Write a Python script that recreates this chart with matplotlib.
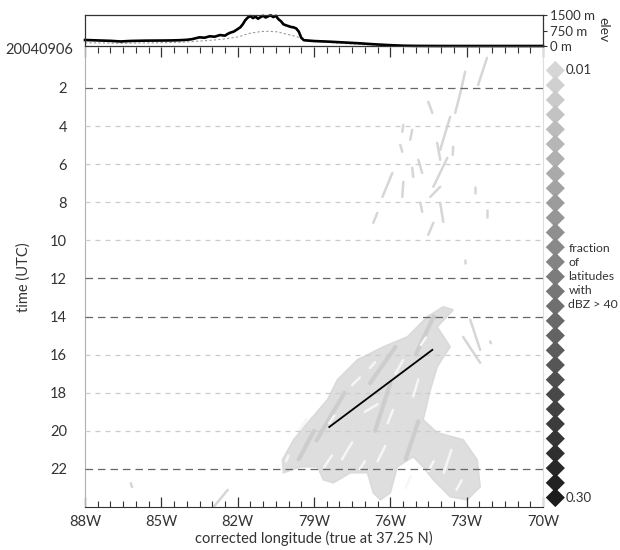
import numpy as np
import matplotlib
matplotlib.use('Agg')
import matplotlib.pyplot as plt
from matplotlib.patches import Polygon
from matplotlib.ticker import MultipleLocator
from matplotlib.colors import LinearSegmentedColormap

plt.rcParams['font.family'] = ['Lato', 'DejaVu Sans']

# elevation profile along the corrected longitude (m)
elev_lon = [-88.0, -87.5, -87.0, -86.6, -86.2, -85.6, -85.0, -84.6, -84.3, -84.0,
            -83.8, -83.5, -83.3, -83.1, -82.9, -82.7, -82.5, -82.4, -82.3, -82.15,
            -82.0, -81.9, -81.8, -81.7, -81.6, -81.5, -81.4, -81.3, -81.2, -81.1,
            -81.0, -80.9, -80.8, -80.7, -80.6, -80.5, -80.4, -80.3, -80.2, -80.1,
            -80.0, -79.9, -79.8, -79.7, -79.6, -79.5, -79.4, -79.0, -78.4, -77.8,
            -77.2, -76.6, -76.0, -75.5, -75.0, -74.0, -72.0, -70.0]
elev_max = [290, 270, 250, 220, 245, 260, 265, 270, 280, 300,
            330, 420, 400, 470, 450, 530, 500, 580, 640, 700,
            820, 900, 1050, 1250, 1380, 1450, 1350, 1420, 1320, 1400,
            1460, 1380, 1440, 1480, 1400, 1460, 1300, 1200, 1050, 1000,
            960, 920, 900, 850, 700, 400, 280, 240, 210, 170,
            130, 80, 40, 15, 5, 0, 0, 0]
elev_mean = [150, 150, 140, 130, 140, 150, 160, 170, 180, 200,
             215, 240, 255, 275, 295, 320, 345, 360, 380, 410,
             440, 470, 510, 550, 590, 620, 640, 660, 680, 695,
             705, 710, 710, 705, 700, 690, 670, 640, 610, 580,
             550, 520, 490, 460, 420, 370, 320, 240, 170, 120,
             80, 45, 20, 8, 0, 0, 0, 0]

lon_ticks = [-88, -85, -82, -79, -76, -73, -70]
lon_labels = ['88W', '85W', '82W', '79W', '76W', '73W', '70W']
hours = [2, 4, 6, 8, 10, 12, 14, 16, 18, 20, 22]
dark_hours = [2, 12, 14, 22]

# main echo cluster outline (lon, UTC hour)
cluster_lon = [-73.53, -74.16, -73.65, -74.16, -74.43, -74.71, -74.16, -73.14, -72.59, -72.47,
               -72.98, -73.65, -74.31, -74.71, -75.10, -75.73, -76.00, -76.39, -76.67, -76.90,
               -77.57, -78.24, -78.63, -78.86, -79.53, -80.20, -80.24, -79.80, -79.25, -78.47,
               -78.08, -77.29, -76.27, -75.33, -74.55, -73.92]
cluster_time = [13.65, 14.54, 15.59, 16.64, 17.85, 19.42, 20.10, 20.47, 21.52, 22.94,
                23.62, 23.46, 22.57, 21.89, 21.36, 21.89, 23.25, 23.62, 23.25, 22.20,
                22.20, 22.73, 22.57, 21.89, 21.89, 22.20, 21.52, 20.47, 19.58, 18.37,
                17.32, 16.27, 15.59, 15.07, 14.02, 13.49]

# isolated echo streaks: (lon start, hour start, lon end, hour end)
streaks = [
    (-72.20, 0.42, -72.55, 1.84), (-73.06, 1.15, -73.25, 2.26), (-73.25, 2.26, -73.45, 3.31),
    (-73.65, 3.52, -74.04, 5.25), (-74.16, 4.88, -74.04, 5.77), (-73.76, 5.67, -74.31, 7.19),
    (-74.04, 7.19, -74.43, 7.72), (-73.53, 5.09, -73.55, 5.51), (-75.14, 4.20, -75.22, 4.72),
    (-75.49, 3.94, -75.53, 4.30), (-75.61, 4.99, -75.53, 5.35), (-75.92, 6.46, -76.31, 7.72),
    (-75.49, 6.93, -75.53, 7.72), (-75.14, 6.19, -75.10, 6.67), (-74.90, 5.77, -74.75, 6.46),
    (-74.04, 8.03, -73.92, 9.03), (-74.82, 8.03, -74.75, 8.50), (-76.51, 8.56, -76.67, 9.08),
    (-74.31, 9.08, -74.51, 9.71), (-72.20, 8.40, -72.20, 8.77), (-72.67, 7.19, -72.67, 7.51),
    (-73.06, 11.02, -73.06, 11.20), (-74.51, 2.73, -74.35, 3.31),
    (-72.86, 14.17, -72.47, 15.75), (-73.14, 15.07, -72.47, 16.43), (-72.08, 15.30, -72.05, 15.40),
    (-82.94, 23.99, -82.39, 23.10), (-86.20, 22.75, -86.15, 22.95),
]
dark_streaks = [
    (-74.3, 14.0, -75.0, 16.0), (-75.8, 15.6, -76.8, 17.5), (-77.8, 18.0, -78.9, 20.5),
    (-76.0, 17.5, -76.6, 20.0), (-74.9, 19.5, -75.4, 21.5), (-79.0, 20.0, -79.6, 21.5),
]
gap_streaks = [
    (-76.5, 18.6, -77.0, 19.0), (-75.5, 16.3, -75.8, 17.0), (-77.5, 20.6, -77.9, 21.5),
    (-74.9, 17.3, -75.1, 18.2), (-78.3, 21.3, -78.6, 21.9), (-73.6, 21.0, -73.9, 22.2),
    (-77.2, 17.2, -77.5, 17.6), (-76.2, 20.8, -76.5, 21.6), (-79.3, 19.4, -79.6, 20.0),
    (-75.9, 18.9, -76.1, 19.6), (-77.0, 21.6, -77.2, 22.0), (-74.6, 15.1, -74.8, 15.5),
    (-78.2, 19.2, -78.4, 19.6), (-75.2, 22.4, -75.4, 23.0), (-73.2, 22.6, -73.4, 23.1),
    (-76.6, 16.4, -76.8, 16.7), (-80.0, 21.3, -80.1, 21.6), (-74.3, 21.6, -74.5, 22.1),
]

# propagation line
line_lon = [-78.4, -74.35]
line_time = [19.8, 15.75]

fractions = [0.01, 0.02, 0.03, 0.04, 0.05, 0.06, 0.07, 0.08, 0.09, 0.10,
             0.11, 0.12, 0.13, 0.14, 0.15, 0.16, 0.17, 0.18, 0.19, 0.20,
             0.21, 0.22, 0.23, 0.24, 0.25, 0.26, 0.27, 0.28, 0.29, 0.30]

W, H = 620, 550
fig = plt.figure(figsize=(6.2, 5.5), dpi=100)


def box(l, t, r, b):
    return [l / W, 1 - b / H, (r - l) / W, (b - t) / H]


ax = fig.add_axes(box(85, 47, 543, 507))
ax_top = fig.add_axes(box(85, 15, 543, 46))
ax_leg = fig.add_axes(box(543, 47, 620, 507))

# ---- main panel
ax.set_xlim(-88, -70)
ax.set_ylim(24, -0.15)

ax.add_patch(Polygon(np.column_stack([cluster_lon, cluster_time]), closed=True,
                     facecolor='#dedede', edgecolor='#dadada', lw=1.2, zorder=1))
for x0, y0, x1, y1 in streaks:
    ax.plot([x0, x1], [y0, y1], color='#d6d6d6', lw=1.8, solid_capstyle='round', zorder=1)
for x0, y0, x1, y1 in dark_streaks:
    ax.plot([x0, x1], [y0, y1], color='#cdcdcd', lw=3, solid_capstyle='round', zorder=1.5)
for x0, y0, x1, y1 in gap_streaks:
    ax.plot([x0, x1], [y0, y1], color='#f6f6f6', lw=1.8, solid_capstyle='round', zorder=1.6)

for h in hours:
    if h in dark_hours:
        ax.axhline(h, color='#666666', lw=0.9, ls=(0, (6, 4)), zorder=3)
    else:
        ax.axhline(h, color='#cccccc', lw=0.9, ls=(0, (4, 4)), zorder=3)

ax.plot(line_lon, line_time, color='k', lw=1.3, zorder=4)

ax.set_xticks(lon_ticks)
ax.set_xticklabels(lon_labels, fontsize=10.5, color='#333333')
ax.xaxis.set_minor_locator(MultipleLocator(0.5))
ax.tick_params(axis='x', which='both', direction='in', top=True, bottom=True,
               color='#333333', pad=6)
ax.tick_params(axis='x', which='major', length=7, width=0.9)
ax.tick_params(axis='x', which='minor', length=4, width=0.8)
ax.set_yticks(hours)
ax.set_yticklabels([str(h) for h in hours], fontsize=10.5, color='#333333')
ax.tick_params(axis='y', length=0, pad=13)

ax.spines['top'].set_visible(False)
ax.spines['left'].set_color('#b0b0b0')
ax.spines['right'].set_color('#dddddd')
ax.spines['bottom'].set_color('#333333')
ax.set_xlabel('corrected longitude (true at 37.25 N)', fontsize=10.5, color='#333333', labelpad=1)
ax.set_ylabel('time (UTC)', fontsize=10.5, color='#333333', labelpad=14)

fig.text(73 / W, 1 - 50 / H, '20040906', ha='right', va='center', fontsize=10.5, color='#333333')

# ---- elevation panel
ax_top.set_xlim(-88, -70)
ax_top.set_ylim(0, 1500)
ax_top.plot(elev_lon, elev_mean, color='#999999', lw=0.8, ls=(0, (2, 2)))
ax_top.plot(elev_lon, elev_max, color='k', lw=1.9, clip_on=False)
ax_top.set_xticks([])
ax_top.yaxis.tick_right()
ax_top.set_yticks([0, 750, 1500])
ax_top.set_yticklabels(['0 m', '750 m', '1500 m'], fontsize=9.5, color='#333333')
ax_top.tick_params(axis='y', direction='out', length=3, pad=2, color='#333333')
for s in ax_top.spines.values():
    s.set_color('#333333')
    s.set_linewidth(0.9)
fig.text(603 / W, 1 - 30 / H, 'elev', rotation=270, ha='center', va='center',
         fontsize=10, color='#333333')

# ---- fraction legend
cmap = LinearSegmentedColormap.from_list('frac', ['#d6d6d6', '#1c1c1c'])
ax_leg.set_xlim(0, 1)
ax_leg.set_ylim(0.3064, -0.0059)
ax_leg.axis('off')
ax_leg.scatter(np.full(len(fractions), 0.16), fractions, marker='D', s=95,
               c=fractions, cmap=cmap, vmin=0.01, vmax=0.30, edgecolors='none', clip_on=False)
ax_leg.text(0.29, fractions[0], '0.01', va='center', ha='left', fontsize=9.5, color='#333333')
ax_leg.text(0.29, fractions[-1], '0.30', va='center', ha='left', fontsize=9.5, color='#333333')
ax_leg.text(0.33, 0.150, 'fraction\nof\nlatitudes\nwith\ndBZ > 40', va='center', ha='left',
            fontsize=8.8, color='#333333', linespacing=1.35, clip_on=False)

fig.savefig('out.png', dpi=100)
